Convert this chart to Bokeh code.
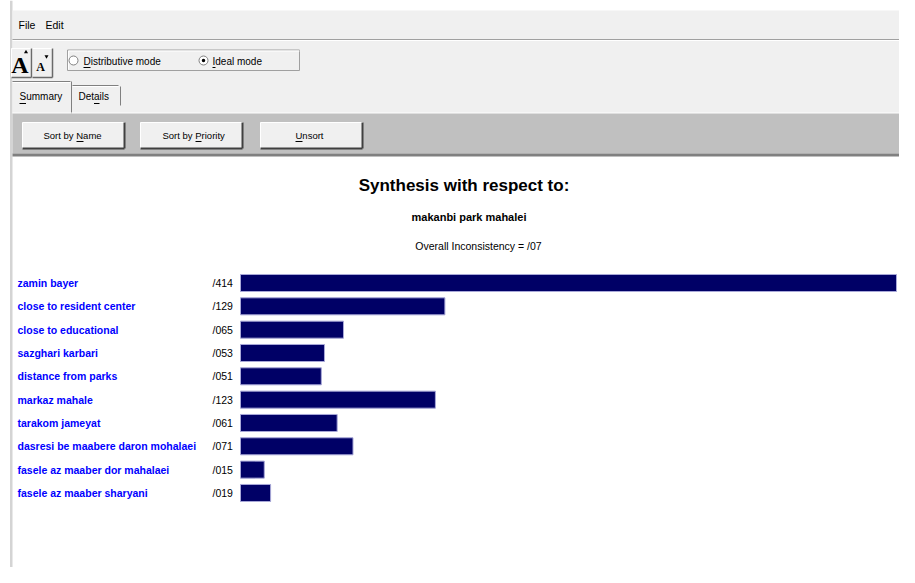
from bokeh.plotting import figure
from bokeh.models import Range1d, ColumnDataSource
from bokeh.core.properties import value
from bokeh.embed import file_html
from bokeh.resources import INLINE

# ---------------- data ----------------
criteria = [
    "zamin bayer",
    "close to resident center",
    "close to educational",
    "sazghari karbari",
    "distance from parks",
    "markaz mahale",
    "tarakom jameyat",
    "dasresi be maabere daron mohalaei",
    "fasele az maaber dor mahalaei",
    "fasele az maaber sharyani",
]
priorities = [0.414, 0.129, 0.065, 0.053, 0.051, 0.123, 0.061, 0.071, 0.015, 0.019]
priority_labels = ["/" + f"{v:.3f}".split(".")[1] for v in priorities]

title_text = "Synthesis with respect to:"
goal_text = "makanbi park mahalei"
inconsistency_text = "Overall Inconsistency = /07"
menu_items = ["File", "Edit"]
mode_options = ["Distributive mode", "Ideal mode"]
tab_labels = ["Summary", "Details"]
button_labels = ["Sort by Name", "Sort by Priority", "Unsort"]

# ---------------- layout (window pixels) ----------------
W, H = 899, 567
UI_FONT = "Liberation Sans"
SERIF = "Liberation Serif"

p = figure(width=W, height=H,
           x_range=Range1d(0, W), y_range=Range1d(H, 0),
           output_backend="svg", toolbar_location=None, min_border=0,
           x_axis_location=None, y_axis_location=None,
           outline_line_color=None, background_fill_color="white",
           border_fill_color="white")
p.grid.visible = False

# value scale for bars: 0 at px 240, largest priority at px 896
bar_zero_px, bar_full_px = 240.0, 896.0
ppu = (bar_full_px - bar_zero_px) / max(priorities)
# row scale: first row centred at px 282.5, 23.33 px per row
row0_px, row_step = 282.5, 23.33
p.extra_x_ranges = {"val": Range1d((0 - bar_zero_px) / ppu, (W - bar_zero_px) / ppu)}
p.extra_y_ranges = {"row": Range1d((H - row0_px) / row_step, (0 - row0_px) / row_step)}

# ---------------- window chrome ----------------
p.quad(left=[9.5], right=[12], top=[0], bottom=[H], fill_color="#d4d4d4", line_color=None)
# menu bar
p.quad(left=[12], right=[W], top=[10], bottom=[38.5], fill_color="#f0f0f0", line_color=None)
p.segment(x0=[12], x1=[W], y0=[39], y1=[39], line_color="#a0a0a0", line_width=1)
p.segment(x0=[12], x1=[W], y0=[40], y1=[40], line_color="#ffffff", line_width=1)
p.text(x=[18, 45], y=[24.5, 24.5], text=menu_items, text_font=value(UI_FONT),
       text_font_size="10.5px", text_baseline="middle", text_color="#000000")
# toolbar area
p.quad(left=[12], right=[W], top=[40.5], bottom=[112.5], fill_color="#f0f0f0", line_color=None)

# font size buttons
p.quad(left=[11, 32], right=[31, 52], top=[48, 48], bottom=[77, 77],
       fill_color="#f0f0f0", line_color="#ffffff", line_width=1)
p.segment(x0=[11, 32, 31, 52], x1=[31, 52, 31, 52], y0=[77, 77, 48, 48], y1=[77, 77, 77, 77],
          line_color="#6a6a6a", line_width=1.5)
p.text(x=[19.5], y=[64], text=["A"], text_font=value(SERIF), text_font_style="bold",
       text_font_size="24px", text_align="center", text_baseline="middle", text_color="#000000")
p.text(x=[40], y=[66], text=["A"], text_font=value(SERIF), text_font_style="bold",
       text_font_size="12px", text_align="center", text_baseline="middle", text_color="#000000")
p.scatter(x=[25.5], y=[51.5], marker="triangle", size=4, fill_color="#000000", line_color=None)
p.scatter(x=[46], y=[56], marker="inverted_triangle", size=4, fill_color="#000000", line_color=None)

# mode radio group
p.quad(left=[67], right=[299], top=[49.5], bottom=[70], fill_color="#f0f0f0",
       line_color="#a0a0a0", line_width=1)
p.segment(x0=[68, 68], x1=[299, 68], y0=[50.5, 50.5], y1=[50.5, 69], line_color="#ffffff")
p.scatter(x=[73, 203], y=[60, 60], marker="circle", size=9, fill_color="#ffffff",
          line_color="#808080", line_width=1)
p.scatter(x=[203], y=[60], marker="circle", size=3.5, fill_color="#000000", line_color=None)
p.text(x=[83, 212], y=[60.5, 60.5], text=mode_options, text_font=value(UI_FONT),
       text_font_size="10px", text_baseline="middle", text_color="#000000")
p.segment(x0=[83, 212], x1=[90, 215], y0=[67, 67], y1=[67, 67], line_color="#000000", line_width=1)

# tabs
p.segment(x0=[12, 71, 72, 120], x1=[70, 71, 118, 120], y0=[81, 81, 85, 86], y1=[81, 113, 85, 105],
          line_color="#808080", line_width=1)
p.segment(x0=[12, 72], x1=[70, 118], y0=[82, 86], y1=[82, 86], line_color="#ffffff", line_width=1)
p.text(x=[19, 78], y=[96, 96], text=tab_labels, text_font=value(UI_FONT),
       text_font_size="10px", text_baseline="middle", text_color="#000000")
p.segment(x0=[19, 93.5], x1=[25.5, 99], y0=[103, 103], y1=[103, 103], line_color="#000000", line_width=1)

# button band
p.segment(x0=[12], x1=[W], y0=[112.5], y1=[112.5], line_color="#ffffff", line_width=1)
p.quad(left=[12], right=[W], top=[113], bottom=[153], fill_color="#c0c0c0", line_color=None)
p.quad(left=[12], right=[W], top=[153], bottom=[156], fill_color="#808080", line_color=None)
btn_left = [22, 140, 260]
btn_right = [124, 242, 362]
p.quad(left=btn_left, right=btn_right, top=[122] * 3, bottom=[148] * 3,
       fill_color="#f0f0f0", line_color="#ffffff", line_width=1)
p.segment(x0=btn_left, x1=btn_right, y0=[148] * 3, y1=[148] * 3, line_color="#404040", line_width=2)
p.segment(x0=btn_right, x1=btn_right, y0=[122] * 3, y1=[148] * 3, line_color="#404040", line_width=2)
p.text(x=[43, 162, 295], y=[135] * 3, text=button_labels,
       text_font=value(UI_FONT), text_font_size="9.5px",
       text_baseline="middle", text_color="#000000")
p.segment(x0=[76, 195, 295], x1=[83, 201, 302], y0=[141, 141, 141], y1=[141, 141, 141],
          line_color="#000000", line_width=1)

# ---------------- synthesis panel ----------------
p.text(x=[463.5], y=[185], text=[title_text], text_font=value(UI_FONT), text_font_style="bold",
       text_font_size="17px", text_align="center", text_baseline="middle", text_color="#000000")
p.text(x=[468.5], y=[216], text=[goal_text], text_font=value(UI_FONT), text_font_style="bold",
       text_font_size="11px", text_align="center", text_baseline="middle", text_color="#000000")
p.text(x=[478], y=[245], text=[inconsistency_text], text_font=value(UI_FONT),
       text_font_size="10.5px", text_align="center", text_baseline="middle", text_color="#000000")

src = ColumnDataSource(dict(
    row=list(range(len(criteria))),
    criterion=criteria,
    priority=priorities,
    label=priority_labels,
))

p.hbar(y="row", left=0, right="priority", height=0.73, source=src,
       x_range_name="val", y_range_name="row",
       fill_color="#000066", line_color="#a8a8d8", line_width=1)
p.text(x=17, y="row", text="criterion", source=src, y_range_name="row",
       text_font=value(UI_FONT), text_font_style="bold", text_font_size="10.5px",
       text_baseline="middle", text_color="#0000ff")
p.text(x=212, y="row", text="label", source=src, y_range_name="row",
       text_font=value(UI_FONT), text_font_size="10.5px",
       text_baseline="middle", text_color="#000000")

open("out.html", "w").write(file_html(p, INLINE))
